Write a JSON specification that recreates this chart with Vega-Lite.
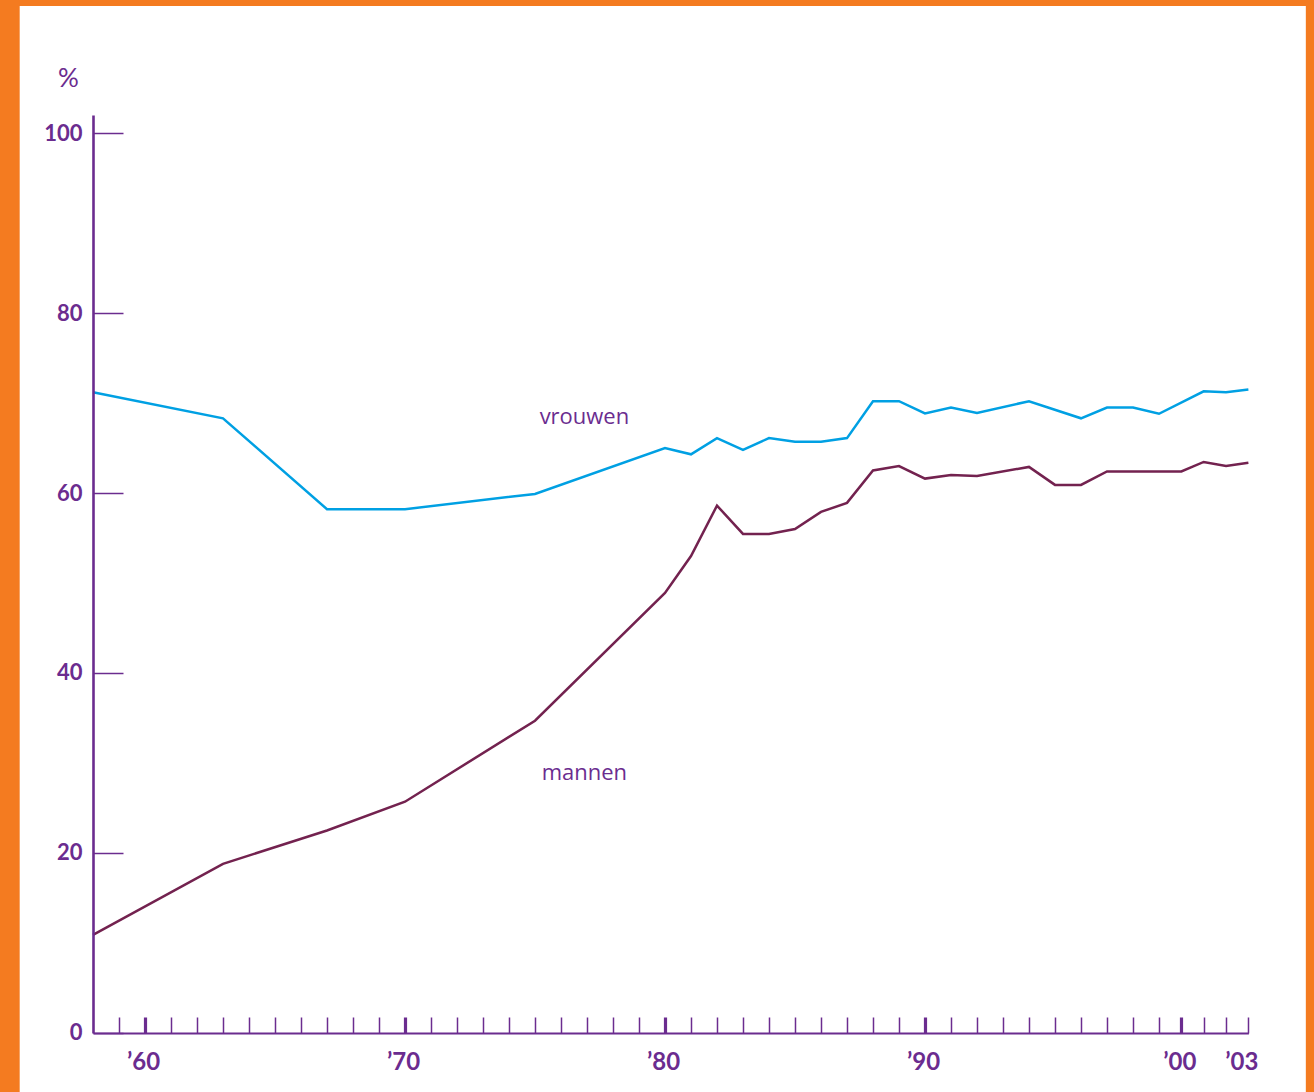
{
  "$schema": "https://vega.github.io/schema/vega-lite/v6.json",
  "width": 1155.4,
  "height": 918,
  "padding": {"left": 19, "top": 6, "right": 9, "bottom": 0},
  "background": "#f47b20",
  "config": {"view": {"stroke": null}, "font": "Lato"},
  "datasets": {
    "series": [
      {"groep": "vrouwen", "jaar": 1958, "pct": 71.2},
      {"groep": "vrouwen", "jaar": 1963, "pct": 68.3},
      {"groep": "vrouwen", "jaar": 1967, "pct": 58.2},
      {"groep": "vrouwen", "jaar": 1970, "pct": 58.2},
      {"groep": "vrouwen", "jaar": 1975, "pct": 59.9},
      {"groep": "vrouwen", "jaar": 1980, "pct": 65.0},
      {"groep": "vrouwen", "jaar": 1981, "pct": 64.3},
      {"groep": "vrouwen", "jaar": 1982, "pct": 66.1},
      {"groep": "vrouwen", "jaar": 1983, "pct": 64.8},
      {"groep": "vrouwen", "jaar": 1984, "pct": 66.1},
      {"groep": "vrouwen", "jaar": 1985, "pct": 65.7},
      {"groep": "vrouwen", "jaar": 1986, "pct": 65.7},
      {"groep": "vrouwen", "jaar": 1987, "pct": 66.1},
      {"groep": "vrouwen", "jaar": 1988, "pct": 70.2},
      {"groep": "vrouwen", "jaar": 1989, "pct": 70.2},
      {"groep": "vrouwen", "jaar": 1990, "pct": 68.85},
      {"groep": "vrouwen", "jaar": 1991, "pct": 69.5},
      {"groep": "vrouwen", "jaar": 1992, "pct": 68.9},
      {"groep": "vrouwen", "jaar": 1994, "pct": 70.2},
      {"groep": "vrouwen", "jaar": 1996, "pct": 68.3},
      {"groep": "vrouwen", "jaar": 1997, "pct": 69.5},
      {"groep": "vrouwen", "jaar": 1998, "pct": 69.5},
      {"groep": "vrouwen", "jaar": 1999, "pct": 68.8},
      {"groep": "vrouwen", "jaar": 2001, "pct": 71.3},
      {"groep": "vrouwen", "jaar": 2002, "pct": 71.2},
      {"groep": "vrouwen", "jaar": 2003, "pct": 71.5},
      {"groep": "mannen", "jaar": 1958, "pct": 10.9},
      {"groep": "mannen", "jaar": 1963, "pct": 18.8},
      {"groep": "mannen", "jaar": 1967, "pct": 22.5},
      {"groep": "mannen", "jaar": 1970, "pct": 25.7},
      {"groep": "mannen", "jaar": 1975, "pct": 34.7},
      {"groep": "mannen", "jaar": 1980, "pct": 48.9},
      {"groep": "mannen", "jaar": 1981, "pct": 53.0},
      {"groep": "mannen", "jaar": 1982, "pct": 58.6},
      {"groep": "mannen", "jaar": 1983, "pct": 55.45},
      {"groep": "mannen", "jaar": 1984, "pct": 55.45},
      {"groep": "mannen", "jaar": 1985, "pct": 56.0},
      {"groep": "mannen", "jaar": 1986, "pct": 57.9},
      {"groep": "mannen", "jaar": 1987, "pct": 58.9},
      {"groep": "mannen", "jaar": 1988, "pct": 62.5},
      {"groep": "mannen", "jaar": 1989, "pct": 63.0},
      {"groep": "mannen", "jaar": 1990, "pct": 61.6},
      {"groep": "mannen", "jaar": 1991, "pct": 62.0},
      {"groep": "mannen", "jaar": 1992, "pct": 61.9},
      {"groep": "mannen", "jaar": 1994, "pct": 62.9},
      {"groep": "mannen", "jaar": 1995, "pct": 60.9},
      {"groep": "mannen", "jaar": 1996, "pct": 60.9},
      {"groep": "mannen", "jaar": 1997, "pct": 62.4},
      {"groep": "mannen", "jaar": 1998, "pct": 62.4},
      {"groep": "mannen", "jaar": 1999, "pct": 62.4},
      {"groep": "mannen", "jaar": 2000, "pct": 62.4},
      {"groep": "mannen", "jaar": 2001, "pct": 63.45},
      {"groep": "mannen", "jaar": 2002, "pct": 63.0},
      {"groep": "mannen", "jaar": 2003, "pct": 63.35}
    ],
    "labels": [
      {"groep": "vrouwen", "jaar": 1976.9, "pct": 67.7},
      {"groep": "mannen", "jaar": 1976.9, "pct": 28.1}
    ]
  },
  "layer": [
    {
      "data": {"values": [{}]},
      "mark": {"type": "rect", "fill": "white", "clip": false},
      "encoding": {
        "x": {
          "datum": 1955.18, "type": "quantitative",
          "scale": {"domain": [1958, 1999, 2003], "range": [0, 1066, 1155.4], "nice": false, "zero": false},
          "axis": {
            "title": null, "grid": false, "zindex": 1, "tickCount": 100,
            "values": [1959,1960,1961,1962,1963,1964,1965,1966,1967,1968,1969,1970,1971,1972,1973,1974,1975,1976,1977,1978,1979,1980,1981,1982,1983,1984,1985,1986,1987,1988,1989,1990,1991,1992,1993,1994,1995,1996,1997,1998,1999,2000,2001,2002,2003],
            "labelExpr": "indexof([1960,1970,1980,1990,2000,2003], datum.value) >= 0 ? '’' + substring(toString(datum.value), 2, 4) : ''",
            "domainColor": "#6b2c8f", "domainWidth": 2.2,
            "tickColor": "#6b2c8f", "tickSize": -16,
            "tickWidth": {"condition": {"test": "datum.value % 10 == 0", "value": 3.2}, "value": 1.5},
            "labelOffset": {"condition": {"test": "datum.value == 2003", "value": -7}, "value": -2},
            "labelFont": "Lato", "labelFontWeight": "bold", "labelFontSize": 24,
            "labelColor": "#6b2c8f", "labelPadding": 34, "labelOverlap": false, "labelFlush": false
          }
        },
        "x2": {"datum": 2005.57},
        "y": {
          "datum": 114.1, "type": "quantitative",
          "scale": {"domain": [0, 102], "nice": false, "zero": true},
          "axis": {
            "values": [0, 20, 40, 60, 80, 100], "grid": false, "zindex": 1, "tickCount": 100,
            "title": "%", "titleAngle": 0, "titleX": -25, "titleY": -37,
            "titleAlign": "center", "titleBaseline": "middle",
            "titleFont": "Lato", "titleFontWeight": "normal", "titleFontSize": 26, "titleColor": "#6b2c8f",
            "domainColor": "#6b2c8f", "domainWidth": 2.6,
            "tickColor": "#6b2c8f", "tickSize": -30, "tickWidth": 1.5,
            "labelFont": "Lato", "labelFontWeight": "bold", "labelFontSize": 22,
            "labelColor": "#6b2c8f", "labelPadding": 41
          }
        },
        "y2": {"datum": -6.6}
      }
    },
    {
      "data": {"name": "series"},
      "mark": {"type": "line", "strokeWidth": 2.5},
      "encoding": {
        "x": {"field": "jaar", "type": "quantitative"},
        "y": {"field": "pct", "type": "quantitative"},
        "color": {
          "field": "groep", "type": "nominal", "legend": null,
          "scale": {"domain": ["vrouwen", "mannen"], "range": ["#00a0e3", "#73224f"]}
        }
      }
    },
    {
      "data": {"name": "labels"},
      "mark": {"type": "text", "font": "Open Sans", "fontSize": 22, "color": "#6b2c8f", "align": "center", "baseline": "alphabetic"},
      "encoding": {
        "x": {"field": "jaar", "type": "quantitative"},
        "y": {"field": "pct", "type": "quantitative"},
        "text": {"field": "groep"}
      }
    }
  ]
}
